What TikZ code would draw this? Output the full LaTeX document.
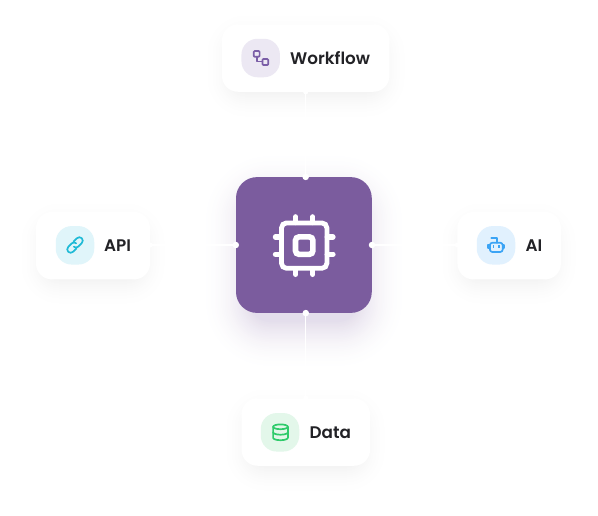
\documentclass[tikz,border=0pt]{standalone}
\usepackage{fontspec}
\setmainfont{Poppins}[BoldFont={Poppins SemiBold}]
\definecolor{brand}{HTML}{7B5C9E}
\definecolor{inkc}{HTML}{222226}
\definecolor{wfbg}{HTML}{ECE8F3}\definecolor{wfc}{HTML}{7B5EA7}
\definecolor{apibg}{HTML}{E0F5FA}\definecolor{apic}{HTML}{1FBAD6}
\definecolor{aibg}{HTML}{E1F1FE}\definecolor{aic}{HTML}{3BA4F5}
\definecolor{dbbg}{HTML}{E3F7EA}\definecolor{dbc}{HTML}{2FCB6B}
% x1 y1 x2 y2 radius colour peak-percent reach
\newcommand{\softglow}[8]{%
  \foreach \gi in {1,...,30}{
    \pgfmathsetmacro{\ge}{(30-\gi)*#8/30}
    \pgfmathsetmacro{\gr}{#5+\ge}
    \pgfmathsetmacro{\gp}{#7*(\gi/30)*(\gi/30)}
    \fill[#6!\gp!white,rounded corners=\gr pt]
      ({#1-\ge},{#2-\ge}) rectangle ({#3+\ge},{#4+\ge});
  }}
\tikzset{
  card/.style={fill=white,rounded corners=16pt,inner sep=0pt,minimum height=67.5pt},
  iconbox/.style={rounded corners=16pt,inner sep=0pt,minimum size=38.5pt},
  label/.style={anchor=base west,inner sep=0pt,text=inkc,font=\fontsize{16.8}{18}\selectfont\bfseries},
  wire/.style={draw=white,line width=1.2pt},
  dot/.style={circle,fill=white,inner sep=0pt,minimum size=6.5pt},
  nub/.style={circle,fill=white,inner sep=0pt,minimum size=5pt},
  glyph/.style={line width=1.7pt,line cap=round,line join=round},
}
\begin{document}
\begin{tikzpicture}[x=1pt,y=-1pt]
\useasboundingbox (0,0) rectangle (598,515);
\fill[white] (0,0) rectangle (598,515);
% shadows
\softglow{232}{40}{380}{92}{14}{black}{4.5}{30}
\softglow{46}{228}{140}{279}{14}{black}{4.5}{30}
\softglow{467}{228}{551}{279}{14}{black}{4.5}{30}
\softglow{251}{414}{360}{466}{14}{black}{4.5}{30}
\softglow{250}{200}{358}{322}{20}{brand}{20}{50}
% nodes
\node[card,minimum width=167.5pt] (wf) at (305.7,58) {};
\node[card,minimum width=114pt] (api) at (93,245.7) {};
\node[card,minimum width=103.5pt] (ai) at (509.2,245.7) {};
\node[card,minimum width=128.5pt] (db) at (305.8,432) {};
\node[fill=brand,rounded corners=21pt,inner sep=0pt,minimum size=135.8pt] (hub) at (303.9,245) {};
% connectors
\draw[wire] (wf.south) -- (wf.south |- hub.north);
\draw[wire] (hub.west) -- (hub.west -| api.east);
\draw[wire] (hub.east) -- (hub.east -| ai.west);
\draw[wire] (db.north) -- (db.north |- hub.south);
\node[dot] (d1) at (wf.south |- hub.north) {};
\node[dot] (d2) at (hub.west) {};
\node[dot] (d3) at (hub.east) {};
\node[dot] (d4) at (db.north |- hub.south) {};
\node[nub] (d5) at (wf.south) {};
\node[nub] (d6) at (hub.west -| api.east) {};
\node[nub] (d7) at (hub.east -| ai.west) {};
\node[nub] (d8) at (db.north) {};
% chip icon
\begin{scope}[shift={(304.2,245.6)}]
\foreach \a in {0,90,180,270}{
  \begin{scope}[rotate=\a]
  \draw[white,line width=5.2pt,line cap=round] (-8.6,-23) -- (-8.6,-28.8);
  \draw[white,line width=5.2pt,line cap=round] (8.6,-23) -- (8.6,-28.8);
  \end{scope}}
\draw[white,line width=4.8pt,rounded corners=5pt] (-22.7,-22.7) rectangle (22.7,22.7);
\draw[white,line width=5.6pt,rounded corners=3.5pt] (-8.7,-8.7) rectangle (8.7,8.7);
\end{scope}
% workflow
\node[iconbox,fill=wfbg] (wficon) at (260.7,58) {};
\node[label] (wflabel) at (290,64) {Workflow};
\begin{scope}[shift={(260.7,58)},y=1pt]
\draw[glyph,wfc,rounded corners=1pt] (-7,7) rectangle (-1.1,1.2);
\draw[glyph,wfc,rounded corners=1pt] (1.7,-1) rectangle (7.6,-7);
\draw[glyph,wfc] (-4,1.2) -- (-4,-3.5) -- (1.7,-3.5);
\end{scope}
% api
\node[iconbox,fill=apibg] (apiicon) at (75,245.3) {};
\node[label] (apilabel) at (104,251) {API};
\begin{scope}[shift={(75,245)},y=1pt,rotate=45]
\draw[glyph,apic] (1.2,3.4) -- (6.2,3.4) arc (90:-90:3.4) -- (1,-3.4) .. controls (-0.8,-3.4) and (-2,-2) .. (-2,-0.4);
\draw[glyph,apic] (-1.2,-3.4) -- (-6.2,-3.4) arc (270:90:3.4) -- (-1,3.4) .. controls (0.8,3.4) and (2,2) .. (2,0.4);
\end{scope}
% ai
\node[iconbox,fill=aibg] (aiicon) at (496,245.3) {};
\node[label] (ailabel) at (525.5,251) {AI};
\begin{scope}[shift={(496.3,245.3)},y=1pt]
\draw[glyph,aic,rounded corners=2.5pt] (-6.4,2.6) rectangle (6.4,-6.7);
\draw[glyph,aic] (0.4,2.6) -- (0.4,7.4) -- (-5,7.4);
\draw[glyph,aic] (-6.4,0) -- (-8,0) -- (-8,-3) -- (-6.4,-3);
\draw[glyph,aic] (6.4,0) -- (8,0) -- (8,-3) -- (6.4,-3);
\draw[aic,line width=1.5pt] (-2.6,0) -- (-2.6,-2.8);
\draw[aic,line width=1.5pt] (2.6,0) -- (2.6,-2.8);
\end{scope}
% data
\node[iconbox,fill=dbbg] (dbicon) at (280,432.3) {};
\node[label] (dblabel) at (309.5,438) {Data};
\begin{scope}[shift={(280.5,432.3)},y=1pt]
\draw[glyph,dbc] (0,5.5) ellipse (7.4 and 2.4);
\draw[glyph,dbc] (-7.4,5.5) -- (-7.4,-5.5) arc (180:360:7.4 and 2.4) -- (7.4,5.5);
\draw[glyph,dbc] (-7.4,0) arc (180:360:7.4 and 2.4);
\end{scope}
\end{tikzpicture}
\end{document}
